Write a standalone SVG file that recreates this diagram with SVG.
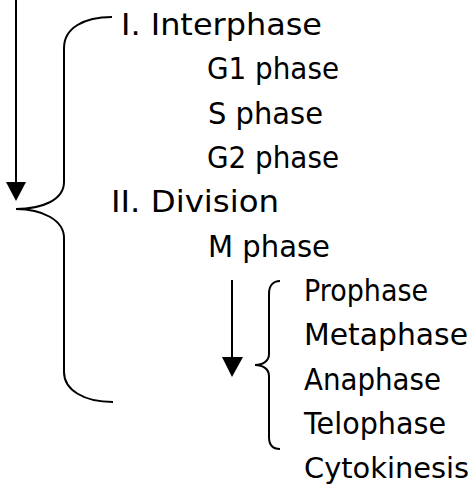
<svg xmlns="http://www.w3.org/2000/svg" width="475" height="489" viewBox="0 0 475 489">
<style>
text { font-family: "Comic Sans MS", "DejaVu Sans", sans-serif; font-size: 31px; fill: #000; }
text.small { font-size: 29px; }
.brace { fill: none; stroke: #000; stroke-width: 2; }
.shaft { stroke: #000; stroke-width: 2; }
.head { fill: #000; }
</style>
<rect width="475" height="489" fill="#fff"/>
<g id="connectors">
  <line class="shaft" x1="16" y1="0" x2="16" y2="184"/>
  <polygon class="head" points="6,182 26,182 16,201"/>
  <path class="brace" d="M112,17 C84,17 64,28 64,48 L64,182 C64,200 42,209 16,209 C42,209 64,220 64,238 L64,372 C64,390 84,402 113,402"/>
  <line class="shaft" x1="232" y1="280" x2="232" y2="359"/>
  <polygon class="head" points="222,357 243,357 232,377"/>
  <path class="brace" stroke-width="1.6" d="M280,281 C273,281 269,286 269,294 L269,354 C269,361 263,365 255,365 C263,365 269,369 269,376 L269,437 C269,445 273,449 280,449"/>
</g>
<g id="interphase"><text x="121" y="35" textLength="201" lengthAdjust="spacingAndGlyphs">I. Interphase</text></g>
<g id="g1"><text x="207" y="79" textLength="132" lengthAdjust="spacingAndGlyphs">G1 phase</text></g>
<g id="s"><text x="208" y="124" textLength="115" lengthAdjust="spacingAndGlyphs">S phase</text></g>
<g id="g2"><text x="207" y="168" textLength="132" lengthAdjust="spacingAndGlyphs">G2 phase</text></g>
<g id="division"><text x="111" y="212" textLength="168" lengthAdjust="spacingAndGlyphs">II. Division</text></g>
<g id="m"><text x="208" y="257" textLength="122" lengthAdjust="spacingAndGlyphs">M phase</text></g>
<g id="prophase"><text x="304" y="301" textLength="124" lengthAdjust="spacingAndGlyphs">Prophase</text></g>
<g id="metaphase"><text x="304" y="345" textLength="164" lengthAdjust="spacingAndGlyphs">Metaphase</text></g>
<g id="anaphase"><text x="304" y="390" textLength="137" lengthAdjust="spacingAndGlyphs">Anaphase</text></g>
<g id="telophase"><text x="304" y="434" textLength="142" lengthAdjust="spacingAndGlyphs">Telophase</text></g>
<g id="cytokinesis"><text class="small" x="304" y="478" textLength="165" lengthAdjust="spacingAndGlyphs">Cytokinesis</text></g>
</svg>
